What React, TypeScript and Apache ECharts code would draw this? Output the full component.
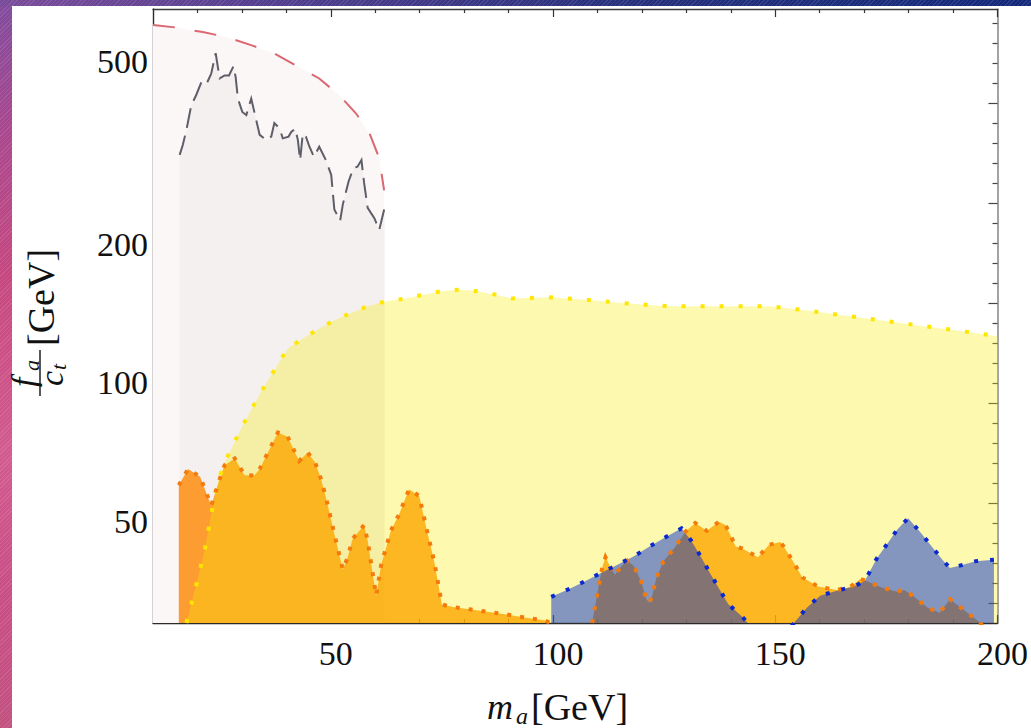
import React, { useEffect, useRef } from "react";
import * as echarts from "echarts";

// ---------- axis ranges & ticks ----------
const X_MIN = 10;
const X_MAX = 200;
const Y_MIN = 30;
const Y_MAX = 650;
const xTickLabels = [50, 100, 150, 200];
const xMinorTicks = [20, 30, 40, 60, 70, 80, 90, 110, 120, 130, 140, 160, 170, 180, 190];
const yTickLabels = [50, 100, 200, 500];
const yMinorTicks = [40, 60, 70, 80, 90, 150, 300, 400];
// right frame ticks (uniform, in frame units 0..614)
const R_MAX = 614;
const rightMajorTicks = [20, 120, 220, 320, 420, 520];
const rightMinorTicks = [40, 60, 80, 100, 140, 160, 180, 200, 240, 260, 280, 300, 340, 360, 380, 400, 440, 460, 480, 500, 540, 560, 580, 600];

// ---------- data (m_a in GeV, f_a/c_t in GeV) ----------
// red dashed kinematic bound (pink region)
const kinX = [10, 15.5, 21.2, 26.5, 32.4, 37.3, 42.5, 47.4, 51.9, 55.7, 58.7, 60.9, 62.0];
const kinY = [600, 592, 579, 565, 541, 520, 488, 459, 422, 385, 349, 308, 262];

// grey dashed jagged bound (grey region)
const greyX = [16.0, 16.7, 17.5, 18.6, 19.7, 20.9, 22.0, 23.1, 24.1, 25.0, 26.1, 27.1, 28.1, 28.6, 29.1, 30.1, 31.0, 31.3, 32.1, 34.0, 35.5, 36.6, 37.3, 38.5, 39.2, 40.5, 41.1, 42.0, 42.6, 43.1, 43.7, 44.4, 45.2, 46.2, 47.4, 48.9, 50.1, 50.8, 52.1, 52.7, 54.0, 55.1, 56.0, 56.9, 57.5, 58.3, 59.8, 60.9, 62.1];
const greyY = [313, 329, 354, 401, 422, 451, 446, 470, 521, 459, 466, 466, 488, 462, 415, 388, 382, 391, 415, 346, 337, 343, 367, 357, 340, 343, 351, 357, 337, 305, 348, 343, 326, 310, 326, 305, 283, 238, 225, 244, 274, 293, 295, 305, 272, 240, 228, 215, 240];

// yellow dotted bound
const yelX = [17.5, 19.7, 21.6, 23.1, 24.6, 26.5, 29.9, 34.0, 38.1, 40.3, 43.7, 47.4, 50.8, 54.6, 58.3, 62.4, 66.5, 70.6, 74.8, 78.9, 83.0, 87.1, 90.8, 99.2, 107.5, 115.7, 123.9, 128.1, 148.6, 156.9, 165.1, 173.3, 181.4, 189.7, 200];
const yelY = [30, 36.2, 43.1, 51.8, 61.2, 68.2, 79.8, 94.3, 109.6, 118.6, 124.7, 131.1, 136.7, 141.8, 146.6, 150.3, 152.3, 155.2, 158.0, 159.3, 158.0, 155.4, 152.5, 153.3, 151.5, 149.0, 147.0, 146.6, 146.6, 143.7, 140.1, 136.9, 133.5, 130.4, 126.2];

// orange dotted bound, low mass
const orLX = [15.8, 17.9, 20.6, 22.1, 23.1, 25.0, 26.1, 28.4, 30.6, 32.8, 34.0, 35.8, 38.1, 40.3, 42.0, 42.9, 44.8, 46.5, 47.8, 48.9, 50.8, 52.7, 53.8, 54.9, 57.5, 58.3, 60.2, 61.3, 63.5, 65.4, 67.6, 69.9, 71.4, 73.3, 75.0, 77.5, 81.6, 85.6, 89.7, 93.9, 98.0, 99.5];
const orLY = [59.8, 64.9, 62.4, 57.2, 54.0, 61.7, 66.1, 68.4, 62.9, 62.8, 64.9, 70.3, 77.9, 76.3, 70.3, 67.6, 70.5, 67.0, 61.7, 56.3, 46.9, 39.2, 41.7, 45.7, 49.0, 45.3, 34.4, 40.0, 47.6, 51.8, 58.6, 56.7, 48.8, 40.7, 32.9, 32.5, 32.1, 31.7, 31.3, 30.8, 30.4, 30.0];

// orange dotted bound, high mass
const orHX = [108.8, 109.6, 110.3, 111.1, 111.8, 112.9, 113.9, 115.7, 116.7, 118.2, 119.9, 121.0, 121.7, 122.3, 123.2, 124.8, 127.4, 129.8, 132.0, 134.6, 137.3, 138.8, 140.0, 141.1, 142.5, 146.1, 148.6, 151.1, 151.9, 154.1, 156.1, 159.7, 163.8, 166.8, 169.1, 170.0, 173.8, 177.3, 179.0, 181.1, 184.3, 187.0, 189.3, 193.0, 196.0, 198.0];
const orHY = [30, 33.2, 36.3, 39.7, 41.7, 39.7, 38.2, 40.2, 41.0, 39.9, 36.8, 33.8, 33.2, 34.4, 37.4, 40.8, 43.8, 47.4, 49.5, 47.6, 49.8, 49.0, 46.4, 44.0, 43.6, 41.7, 44.4, 45.0, 44.0, 40.7, 37.7, 36.0, 35.4, 35.9, 37.4, 37.2, 35.9, 35.1, 35.4, 34.3, 32.4, 31.6, 33.8, 31.7, 30.1, 28.5];

// blue dotted bound
const blueX = [99.6, 103.4, 107.2, 110.9, 114.6, 118.2, 121.7, 125.3, 128.9, 131.1, 133.2, 135.2, 137.3, 139.4, 142.5, 143.8, 146.0, 152.0, 154.2, 157.1, 160.1, 164.0, 168.0, 170.2, 172.8, 175.2, 177.5, 179.9, 182.6, 185.2, 187.8, 189.3, 191.2, 195.1, 199.2];
const blueY = [34.2, 35.5, 37.0, 38.6, 40.2, 41.9, 44.0, 46.1, 48.2, 45.3, 41.9, 38.7, 35.7, 33.0, 31.0, 30.0, 28.0, 28.0, 30.0, 32.4, 34.4, 35.3, 36.1, 37.1, 41.4, 44.6, 48.0, 50.7, 47.3, 44.0, 41.0, 39.5, 39.9, 40.9, 41.2];

const SERIF = '"Liberation Serif", "DejaVu Serif", serif';
const TXT = "#111111";

const lg = (v: number) => Math.log10(v);
const pts = (xs: number[], ys: number[]) => xs.map((x, i) => [x, lg(ys[i])]);

function fillSeries(name: string, xs: number[], ys: number[], color: string) {
  return {
    type: "line",
    name,
    data: pts(xs, ys),
    symbol: "none",
    showSymbol: false,
    silent: true,
    z: 2,
    lineStyle: { width: 0, opacity: 0 },
    areaStyle: { color, opacity: 1, origin: "start" },
  };
}

function strokeSeries(name: string, xs: number[], ys: number[], color: string, width: number, dash: number[]) {
  return {
    type: "line",
    name: name + " line",
    data: pts(xs, ys),
    symbol: "none",
    showSymbol: false,
    silent: true,
    z: 3,
    lineStyle: { color, width, type: dash, cap: "butt", join: "miter" },
  };
}

export default function App() {
  const ref = useRef<HTMLDivElement>(null);

  useEffect(() => {
    if (!ref.current) return;
    const chart = echarts.init(ref.current, undefined, { renderer: "svg" });

    const axisDark = { color: "#2b2b2b", width: 1.4 };
    const tickDark = { color: "#333333", width: 1.2 };
    const xLabelRich: any = {};
    xTickLabels.forEach((v) => {
      xLabelRich["o" + v] = { fontFamily: SERIF, fontSize: 34, color: TXT, padding: [0, 0, 0, 10] };
    });

    const option: any = {
      animation: false,
      backgroundColor: "transparent",
      grid: { left: 153, top: 9, width: 847, height: 614 },
      xAxis: [
        {
          type: "value", min: X_MIN, max: X_MAX, position: "bottom",
          axisLine: { show: true, lineStyle: axisDark },
          axisTick: { show: true, inside: true, length: 4, customValues: xMinorTicks, lineStyle: tickDark },
          axisLabel: {
            show: true, customValues: xTickLabels, margin: 13,
            formatter: (v: number) => `{o${v}|${v}}`, rich: xLabelRich,
            fontFamily: SERIF, fontSize: 34, color: TXT,
          },
          splitLine: { show: false },
        },
        {
          type: "value", min: X_MIN, max: X_MAX, position: "bottom",
          axisLine: { show: false },
          axisTick: { show: true, inside: true, length: 8, customValues: xTickLabels, lineStyle: tickDark },
          axisLabel: { show: false },
          splitLine: { show: false },
        },
        {
          type: "value", min: X_MIN, max: X_MAX, position: "top",
          axisLine: { show: true, lineStyle: { color: "#3a3a3a", width: 1.3 } },
          axisTick: { show: true, inside: true, length: 4, customValues: xMinorTicks, lineStyle: tickDark },
          axisLabel: { show: false },
          splitLine: { show: false },
        },
        {
          type: "value", min: X_MIN, max: X_MAX, position: "top",
          axisLine: { show: false },
          axisTick: { show: true, inside: true, length: 8, customValues: xTickLabels, lineStyle: tickDark },
          axisLabel: { show: false },
          splitLine: { show: false },
        },
      ],
      yAxis: [
        {
          type: "value", min: lg(Y_MIN), max: lg(Y_MAX), position: "left",
          axisLine: { show: true, lineStyle: axisDark },
          axisTick: { show: true, inside: true, length: 4, customValues: yMinorTicks.map(lg), lineStyle: tickDark },
          axisLabel: {
            show: true, customValues: yTickLabels.map(lg), margin: 5,
            formatter: (v: number) => String(Math.round(Math.pow(10, v))),
            fontFamily: SERIF, fontSize: 34, color: TXT, padding: [8, 0, 0, 0],
          },
          splitLine: { show: false },
        },
        {
          type: "value", min: lg(Y_MIN), max: lg(Y_MAX), position: "left",
          axisLine: { show: false },
          axisTick: { show: true, inside: true, length: 8, customValues: yTickLabels.map(lg), lineStyle: tickDark },
          axisLabel: { show: false },
          splitLine: { show: false },
        },
        {
          type: "value", min: 0, max: R_MAX, position: "right",
          axisLine: { show: true, lineStyle: { color: "#8c8c8c", width: 1.6 } },
          axisTick: { show: true, inside: true, length: 5, customValues: rightMinorTicks, lineStyle: { color: "#444", width: 1.2 } },
          axisLabel: { show: false },
          splitLine: { show: false },
        },
        {
          type: "value", min: 0, max: R_MAX, position: "right",
          axisLine: { show: false },
          axisTick: { show: true, inside: true, length: 9, customValues: rightMajorTicks, lineStyle: { color: "#444", width: 1.2 } },
          axisLabel: { show: false },
          splitLine: { show: false },
        },
      ],
      series: [
        fillSeries("kinematic", kinX, kinY, "#fbf7f7"),
        fillSeries("grey", greyX, greyY, "#f4f0f0"),
        fillSeries("orange low", orLX, orLY, "rgba(255,135,0,0.8)"),
        fillSeries("orange high", orHX, orHY, "rgba(255,135,0,0.8)"),
        fillSeries("yellow", yelX, yelY, "rgba(250,239,0,0.31)"),
        fillSeries("blue", blueX, blueY, "rgba(0,42,203,0.48)"),
        strokeSeries("kinematic", kinX, kinY, "#dc6672", 2, [22, 20]),
        strokeSeries("grey", greyX, greyY, "#5e5e68", 2, [20, 8]),
        strokeSeries("yellow", yelX, yelY, "#ffe600", 4, [4, 15]),
        strokeSeries("orange low", orLX, orLY, "#f57a0a", 4, [4, 9]),
        strokeSeries("orange high", orHX, orHY, "#f57a0a", 4, [4, 9]),
        strokeSeries("blue", blueX, blueY, "#0a2ad0", 4, [4, 12]),
      ],
      graphic: [
        {
          type: "group", x: 487, y: 707, silent: true,
          children: [
            { type: "text", x: 0, y: 0, style: { text: "m", font: `italic 36px ${SERIF}`, fill: TXT, textVerticalAlign: "middle" } },
            { type: "text", x: 29, y: 9, style: { text: "a", font: `italic 24px ${SERIF}`, fill: TXT, textVerticalAlign: "middle" } },
            { type: "text", x: 44, y: 0, style: { text: "[GeV]", font: `38px ${SERIF}`, fill: TXT, textVerticalAlign: "middle" } },
          ],
        },
        {
          type: "group", x: 40, y: 396, rotation: Math.PI / 2, silent: true,
          children: [
            { type: "rect", shape: { x: 0, y: -0.7, width: 46, height: 1.4 }, style: { fill: TXT } },
            { type: "text", x: 9, y: -17, style: { text: "f", font: `italic 34px ${SERIF}`, fill: TXT, textVerticalAlign: "middle" } },
            { type: "text", x: 25, y: -9, style: { text: "a", font: `italic 22px ${SERIF}`, fill: TXT, textVerticalAlign: "middle" } },
            { type: "text", x: 10, y: 11, style: { text: "c", font: `italic 34px ${SERIF}`, fill: TXT, textVerticalAlign: "middle" } },
            { type: "text", x: 26, y: 18, style: { text: "t", font: `italic 22px ${SERIF}`, fill: TXT, textVerticalAlign: "middle" } },
            { type: "text", x: 50, y: 1, style: { text: "[GeV]", font: `38px ${SERIF}`, fill: TXT, textVerticalAlign: "middle" } },
          ],
        },
      ],
    };

    chart.setOption(option);
    return () => chart.dispose();
  }, []);

  const hatch = "repeating-linear-gradient(135deg, rgba(255,255,255,0.10) 0px, rgba(255,255,255,0.10) 1px, rgba(0,0,0,0) 1px, rgba(0,0,0,0) 3px)";

  return (
    <div
      style={{
        position: "fixed", left: 0, top: 0, width: 1031, height: 728, overflow: "hidden",
        background: `${hatch}, linear-gradient(180deg, #7f4a9c 0%, #a9478e 18%, #c6477f 38%, #d25a8f 62%, #c94d85 82%, #c2517f 100%)`,
      }}
    >
      <div
        style={{
          position: "absolute", left: 0, top: 0, width: 1031, height: 6,
          background: `${hatch}, linear-gradient(90deg, #7a4a9a 0%, #4d3c8c 30%, #26307c 60%, #13287a 100%)`,
        }}
      />
      <div style={{ position: "absolute", left: 12, top: 6, width: 1019, height: 722, background: "#ffffff" }} />
      <div ref={ref} style={{ position: "absolute", left: 0, top: 0, width: 1031, height: 728 }} />
    </div>
  );
}
